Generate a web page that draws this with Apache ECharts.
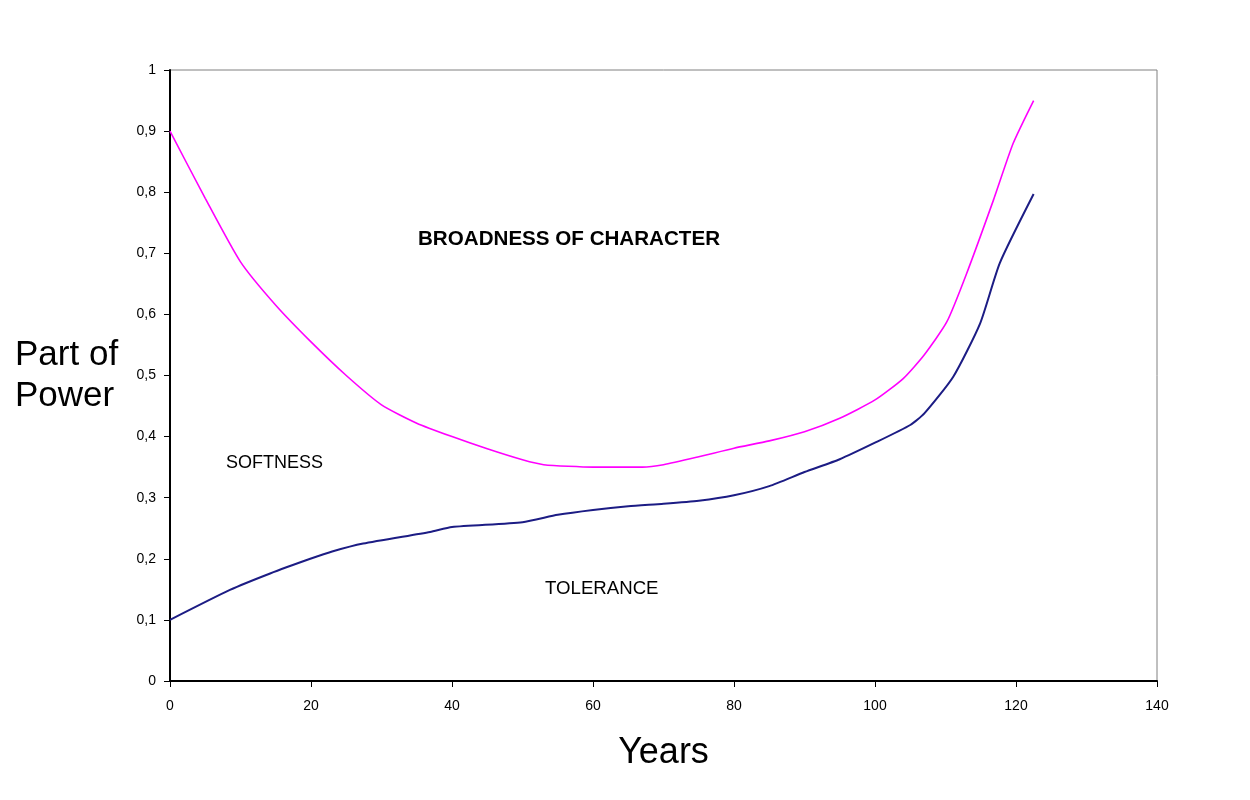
<!DOCTYPE html>
<html>
<head>
<meta charset="utf-8">
<script src="https://cdn.jsdelivr.net/npm/echarts@6/dist/echarts.min.js"></script>
<style>
  html, body { margin: 0; padding: 0; background: #fff; }
  #chart { width: 1250px; height: 800px; }
</style>
</head>
<body>
<div id="chart"></div>
<script>
// Years and share of power for the two traits
const softnessYears = [0, 5, 10, 15, 20, 25, 30, 35, 40, 45, 50, 53, 60, 67, 70, 75, 80, 85, 90, 95, 100, 104, 107, 110.2, 113, 116.8, 119.6, 122.5];
const softnessValues = [0.9, 0.79, 0.686, 0.615, 0.555, 0.50, 0.452, 0.422, 0.40, 0.38, 0.362, 0.354, 0.350, 0.350, 0.354, 0.367, 0.381, 0.393, 0.408, 0.43, 0.46, 0.495, 0.534, 0.588, 0.667, 0.787, 0.88, 0.95];

const toleranceYears = [0, 8.5, 14.2, 19.9, 23, 27.4, 36.9, 40, 50, 55, 60, 65, 70, 75, 80, 85, 90, 95, 100, 105, 107, 111.1, 114.9, 117.7, 122.5];
const toleranceValues = [0.1, 0.149, 0.176, 0.2, 0.212, 0.225, 0.244, 0.252, 0.26, 0.272, 0.28, 0.286, 0.29, 0.295, 0.304, 0.319, 0.342, 0.363, 0.39, 0.419, 0.438, 0.498, 0.585, 0.684, 0.797];

const xTicks = [0, 20, 40, 60, 80, 100, 120, 140];
const yTicks = [0, 0.1, 0.2, 0.3, 0.4, 0.5, 0.6, 0.7, 0.8, 0.9, 1];

const pairs = (xs, ys) => xs.map((x, i) => [x, ys[i]]);

const chart = echarts.init(document.getElementById('chart'));
const font = 'Liberation Sans, Arial, sans-serif';

chart.setOption({
  backgroundColor: '#ffffff',
  animation: false,
  grid: {
    left: 170, right: 93, top: 70, bottom: 119,
    show: true, borderColor: '#808080', borderWidth: 1, backgroundColor: 'transparent'
  },
  xAxis: {
    type: 'value',
    min: xTicks[0], max: xTicks[xTicks.length - 1], interval: 20,
    axisLine: { show: true, lineStyle: { color: '#000', width: 2 } },
    axisTick: { show: true, length: 6, lineStyle: { color: '#000', width: 1 } },
    axisLabel: { color: '#000', fontSize: 14, fontFamily: font, margin: 18 },
    splitLine: { show: false },
    name: 'Years',
    nameLocation: 'middle',
    nameGap: 54,
    nameTextStyle: { color: '#000', fontSize: 36, fontFamily: font }
  },
  yAxis: {
    type: 'value',
    min: yTicks[0], max: yTicks[yTicks.length - 1], interval: 0.1,
    axisLine: { show: true, lineStyle: { color: '#000', width: 2 } },
    axisTick: { show: true, length: 6, lineStyle: { color: '#000', width: 1 } },
    axisLabel: {
      color: '#000', fontSize: 14, fontFamily: font, margin: 14,
      formatter: v => String(Math.round(v * 10) / 10).replace('.', ',')
    },
    splitLine: { show: false }
  },
  series: [
    {
      name: 'SOFTNESS',
      type: 'line',
      data: pairs(softnessYears, softnessValues),
      showSymbol: false,
      smooth: 0.2,
      lineStyle: { color: '#ff00ff', width: 1.6 }
    },
    {
      name: 'TOLERANCE',
      type: 'line',
      data: pairs(toleranceYears, toleranceValues),
      showSymbol: false,
      smooth: 0.2,
      lineStyle: { color: '#1c1c84', width: 2 }
    }
  ],
  graphic: [
    {
      type: 'text', left: 15, top: 335,
      style: { text: 'Part of\nPower', font: '35px ' + font, fill: '#000', lineHeight: 41 }
    },
    {
      type: 'text', left: 418, top: 229,
      style: { text: 'BROADNESS OF CHARACTER', font: 'bold 20.6px ' + font, fill: '#000' }
    },
    {
      type: 'text', left: 226, top: 454,
      style: { text: 'SOFTNESS', font: '18px ' + font, fill: '#000' }
    },
    {
      type: 'text', left: 545, top: 580, scaleX: 1.035,
      style: { text: 'TOLERANCE', font: '18px ' + font, fill: '#000' }
    }
  ]
});
</script>
</body>
</html>
